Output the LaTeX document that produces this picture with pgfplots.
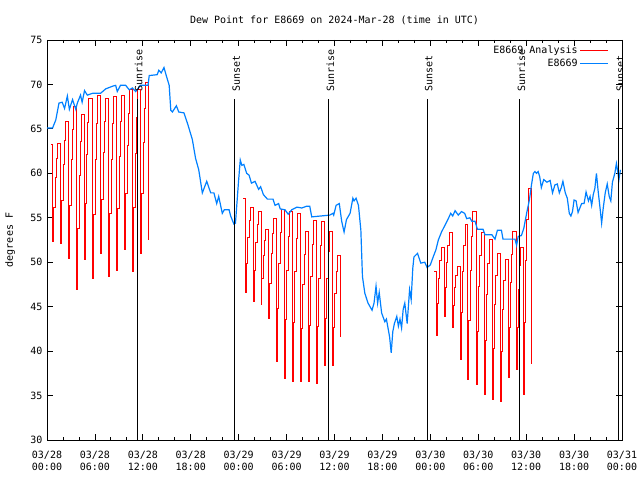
\documentclass[border=0pt]{standalone}
\usepackage{pgfplots}
\pgfplotsset{compat=1.18}
\usepackage{fontspec}
\setmainfont{DejaVu Sans Mono}
\definecolor{anared}{RGB}{255,0,0}
\definecolor{obsblue}{RGB}{0,128,255}

\begin{document}
\begin{tikzpicture}[font=\fontsize{10bp}{12bp}\selectfont]
\useasboundingbox (0,0) rectangle (640bp,480bp);
\begin{axis}[
  at={(47bp,40bp)}, anchor=south west,
  scale only axis, width=575bp, height=400bp,
  xmin=0, xmax=72, ymin=30, ymax=75,
  xtick={0,6,...,72},
  xticklabels={{03/28\\00:00},{03/28\\06:00},{03/28\\12:00},{03/28\\18:00},{03/29\\00:00},{03/29\\06:00},{03/29\\12:00},{03/29\\18:00},{03/30\\00:00},{03/30\\06:00},{03/30\\12:00},{03/30\\18:00},{03/31\\00:00}},
  minor x tick num=2,
  ytick={30,35,...,75},
  tick align=inside,
  major tick length=6bp, minor tick length=3bp,
  tick style={black, line width=0.8bp},
  xticklabel style={align=center, yshift=-8bp, font=\fontsize{10bp}{12bp}\selectfont},
  yticklabel style={xshift=-1bp},
  /pgf/number format/assume math mode=true,
  title={Dew Point for E8669 on 2024-Mar-28 (time in UTC)},
  title style={at={(axis description cs:0.5,1)}, anchor=center, yshift=14bp},
  ylabel={degrees F},
  ylabel style={at={(axis description cs:-0.0643,0.5)}, anchor=center},
  axis line style={black, line width=0.8bp},
  legend plot pos=right,
  legend cell align=right,
  legend image code/.code={\draw[#1] (0bp,0bp) -- (28bp,0bp);},
  legend style={at={(axis description cs:0.9774,0.99)}, anchor=north east, draw=none, fill=none, inner sep=0pt, row sep=0bp, nodes={inner sep=2bp}},
]
\addplot[anared, line width=1.0bp, const plot] coordinates {
(0.5,63.2)
(0.75,52.3)(0.87,56.2)(1.05,59.5)(1.2,61.7)(1.35,63.3)
(1.75,52.1)(1.87,56.9)(2.05,61.0)(2.2,63.7)(2.35,65.8)
(2.75,50.4)(2.87,56.4)(3.05,61.5)(3.2,64.9)(3.35,67.5)
(3.75,46.9)(3.87,53.8)(4.05,59.7)(4.2,63.6)(4.35,66.6)
(4.65,50.3)(4.77,56.6)(4.95,62.1)(5.1,65.7)(5.25,68.4)
(5.75,48.2)(5.87,55.4)(6.05,61.5)(6.2,65.6)(6.35,68.7)
(6.75,51.0)(6.87,57.1)(7.05,62.3)(7.2,65.8)(7.35,68.4)
(7.75,48.4)(7.87,55.5)(8.05,61.5)(8.2,65.6)(8.35,68.6)
(8.75,49.1)(8.87,56.0)(9.05,61.9)(9.2,65.8)(9.35,68.8)
(9.75,51.4)(9.87,57.7)(10.05,63.1)(10.2,66.7)(10.35,69.4)
(10.75,48.9)(10.87,56.1)(11.05,62.2)(11.2,66.3)(11.35,69.4)
(11.75,51.0)(11.87,57.7)(12.05,63.5)(12.2,67.3)(12.35,70.2)
(12.65,52.5)(12.75,52.5)
};
\addlegendentry{E8669 Analysis}
\addplot[anared, line width=1.0bp, const plot, forget plot] coordinates {
(24.6,57.2)
(24.85,46.6)(24.97,49.9)(25.15,52.8)(25.3,54.7)(25.45,56.1)
(25.85,45.6)(25.97,49.1)(26.15,52.2)(26.3,54.2)(26.45,55.7)
(26.8,45.2)(26.92,48.2)(27.1,50.7)(27.25,52.4)(27.4,53.7)
(27.75,43.7)(27.87,47.6)(28.05,51.0)(28.2,53.2)(28.35,54.9)
(28.75,38.8)(28.87,44.8)(29.05,49.9)(29.2,53.3)(29.35,55.9)
(29.75,36.9)(29.87,43.5)(30.05,49.1)(30.2,52.9)(30.35,55.7)
(30.75,36.6)(30.87,43.2)(31.05,48.9)(31.2,52.7)(31.35,55.5)
(31.75,36.6)(31.87,42.5)(32.05,47.5)(32.2,50.9)(32.35,53.4)
(32.75,36.6)(32.87,42.9)(33.05,48.4)(33.2,52.0)(33.35,54.7)
(33.75,36.4)(33.87,42.8)(34.05,48.2)(34.2,51.9)(34.35,54.6)
(34.75,38.4)(34.87,43.7)(35.05,48.2)(35.2,51.2)(35.35,53.4)
(35.75,38.4)(35.87,42.7)(36.05,46.5)(36.2,48.9)(36.35,50.8)
(36.7,41.6)(36.8,41.6)
};
\addplot[anared, line width=1.0bp, const plot, forget plot] coordinates {
(48.5,48.9)
(48.75,41.8)(48.87,45.3)(49.05,48.2)(49.2,50.2)(49.35,51.7)
(49.75,43.9)(49.87,47.2)(50.05,50.0)(50.2,51.9)(50.35,53.3)
(50.75,42.7)(50.87,45.1)(51.05,47.1)(51.2,48.5)(51.35,49.5)
(51.75,39.0)(51.87,44.3)(52.05,48.9)(52.2,51.9)(52.35,54.2)
(52.7,36.8)(52.82,43.4)(53.0,49.1)(53.15,52.9)(53.3,55.7)
(53.75,36.2)(53.87,42.2)(54.05,47.3)(54.2,50.7)(54.35,53.3)
(54.75,35.1)(54.87,41.2)(55.05,46.4)(55.2,49.9)(55.35,52.5)
(55.75,34.5)(55.87,40.3)(56.05,45.2)(56.2,48.5)(56.35,51.0)
(56.75,34.3)(56.87,39.9)(57.05,44.7)(57.2,47.9)(57.35,50.3)
(57.75,37.0)(57.87,42.7)(58.05,47.7)(58.2,50.9)(58.35,53.4)
(58.75,37.9)(58.87,42.7)(59.05,46.9)(59.2,49.6)(59.35,51.7)
(59.65,35.1)(59.77,43.2)(59.95,50.2)(60.1,54.8)(60.25,58.3)
(60.65,38.6)(60.75,38.6)
};
\addplot[obsblue, line width=1.2bp] coordinates {
(0,65.1)(0.7,65.1)(1.1,66.0)(1.5,67.9)(1.9,68.0)(2.2,67.3)(2.55,68.7)(2.8,67.2)(3.2,68.3)(3.6,67.2)(3.8,67.9)(4.2,68.8)(4.4,68.0)(4.7,69.3)(5.05,68.8)(5.7,69.0)(6.7,69.0)(7.35,69.5)(8.2,69.8)(8.6,69.9)(8.8,69.2)(9.2,69.9)(9.85,69.9)(10.3,69.4)(10.7,69.6)(11.1,69.2)(11.7,69.9)(12.65,69.9)(12.8,71.0)(13.8,71.1)(14.0,71.6)(14.3,71.3)(14.65,71.9)(14.9,71.1)(15.3,69.9)(15.5,67.1)(15.7,66.9)(16.2,67.6)(16.5,66.9)(17.15,66.8)(17.6,65.6)(18.2,63.8)(18.6,61.7)(19.0,60.4)(19.45,57.8)(20.0,59.1)(20.5,57.8)(20.9,57.8)(21.25,56.6)(21.5,57.4)(21.95,55.5)(22.2,55.9)(22.8,55.9)(23.0,55.2)(23.4,54.3)(23.6,54.4)(24.0,59.3)(24.2,61.5)(24.4,60.9)(24.65,61.0)(25.0,60.0)(25.3,59.8)(25.6,58.9)(26.05,59.1)(26.5,58.2)(26.75,58.5)(27.1,57.6)(27.6,57.1)(28.3,57.1)(28.55,56.4)(29.0,56.6)(29.2,56.0)(29.8,55.9)(30.2,55.4)(30.65,55.9)(31.3,56.2)(31.9,56.1)(32.5,56.3)(32.9,56.3)(33.15,55.1)(35.4,55.3)(35.8,55.5)(35.9,55.3)(36.2,56.4)(36.6,56.6)(36.9,54.6)(37.2,53.4)(37.5,54.8)(37.95,55.5)(38.3,57.2)(38.45,56.9)(38.7,57.2)(39.0,56.4)(39.3,53.6)(39.5,48.4)(39.8,46.5)(40.2,45.4)(40.7,44.6)(40.95,45.4)(41.2,47.3)(41.4,45.4)(41.6,46.6)(41.9,44.3)(42.3,43.3)(42.5,43.6)(42.9,41.6)(43.1,39.8)(43.3,42.2)(43.5,43.1)(43.8,43.9)(44.0,42.8)(44.2,43.6)(44.4,42.6)(44.6,44.7)(44.8,45.4)(45.1,43.1)(45.4,46.9)(45.6,45.8)(45.8,49.3)(45.95,50.6)(46.4,51.0)(46.8,49.9)(47.3,50.0)(47.6,49.4)(48.0,49.7)(48.4,50.7)(48.7,51.4)(49.0,52.5)(49.4,53.4)(49.8,54.1)(50.25,54.9)(50.55,55.5)(50.8,55.2)(51.1,55.8)(51.5,55.3)(51.9,55.7)(52.3,55.5)(52.55,54.9)(52.95,55.0)(53.2,54.6)(53.6,54.6)(53.9,53.7)(54.6,53.7)(54.85,53.1)(55.7,53.1)(56.1,52.6)(56.4,53.6)(56.9,53.6)(57.1,52.6)(58.6,52.6)(58.8,51.9)(59.0,52.9)(59.4,53.0)(59.7,53.8)(60.1,55.7)(60.4,57.0)(60.7,58.9)(60.9,60.0)(61.1,60.2)(61.3,60.0)(61.5,60.2)(61.7,59.6)(61.9,58.4)(62.2,59.3)(62.6,59.0)(63.0,59.2)(63.3,57.8)(63.6,58.7)(63.9,58.8)(64.15,57.8)(64.4,58.4)(64.6,59.1)(64.9,57.8)(65.15,57.2)(65.4,55.5)(65.6,55.2)(65.8,55.7)(66.0,57.0)(66.25,56.9)(66.5,55.6)(66.95,56.6)(67.25,56.6)(67.5,57.9)(67.8,56.9)(68.0,57.4)(68.2,56.4)(68.4,57.6)(68.6,58.3)(68.8,60.0)(69.0,58.1)(69.25,56.1)(69.45,54.4)(69.65,56.1)(69.9,57.8)(70.15,58.8)(70.4,57.4)(70.6,56.9)(70.8,59.0)(71.1,60.0)(71.3,61.1)(71.5,60.0)(71.6,59.2)(71.8,60.4)
};
\addlegendentry{E8669}
\draw[black, line width=1.0bp] (axis cs:11.3,30) -- (axis cs:11.3,68.4);
\node[rotate=90, anchor=west, inner sep=0pt] at ([xshift=1.5bp]axis cs:11.3,69.15) {Sunrise};
\draw[black, line width=1.0bp] (axis cs:23.5,30) -- (axis cs:23.5,68.4);
\node[rotate=90, anchor=west, inner sep=0pt] at ([xshift=1.5bp]axis cs:23.5,69.15) {Sunset};
\draw[black, line width=1.0bp] (axis cs:35.3,30) -- (axis cs:35.3,68.4);
\node[rotate=90, anchor=west, inner sep=0pt] at ([xshift=1.5bp]axis cs:35.3,69.15) {Sunrise};
\draw[black, line width=1.0bp] (axis cs:47.6,30) -- (axis cs:47.6,68.4);
\node[rotate=90, anchor=west, inner sep=0pt] at ([xshift=1.5bp]axis cs:47.6,69.15) {Sunset};
\draw[black, line width=1.0bp] (axis cs:59.2,30) -- (axis cs:59.2,68.4);
\node[rotate=90, anchor=west, inner sep=0pt] at ([xshift=1.5bp]axis cs:59.2,69.15) {Sunrise};
\draw[black, line width=1.0bp] (axis cs:71.6,30) -- (axis cs:71.6,68.4);
\node[rotate=90, anchor=west, inner sep=0pt] at ([xshift=1.5bp]axis cs:71.6,69.15) {Sunset};
\end{axis}
\end{tikzpicture}
\end{document}
